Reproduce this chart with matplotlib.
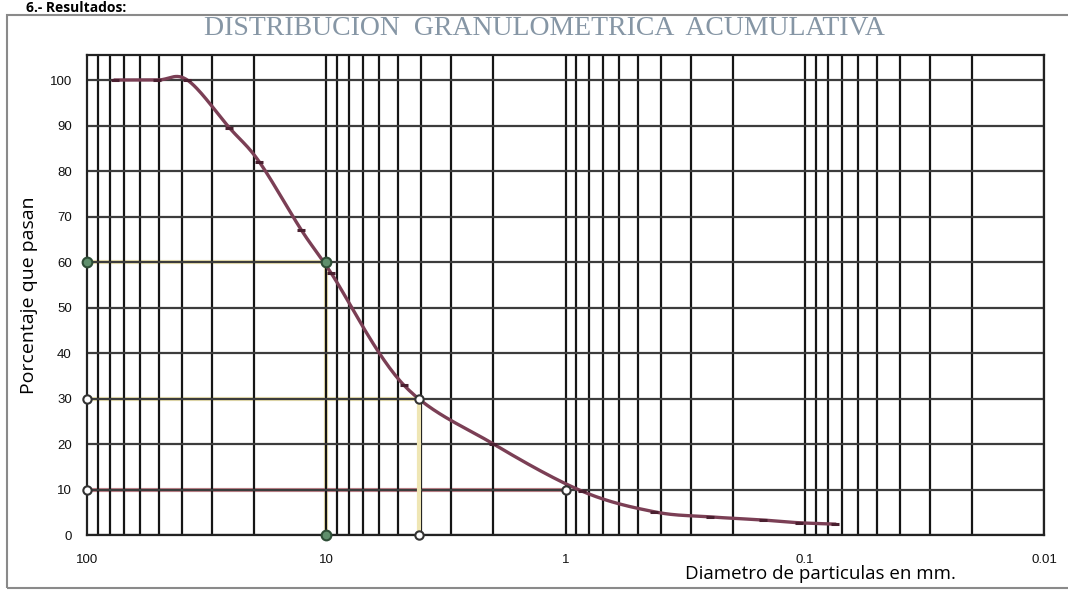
import numpy as np
import matplotlib
matplotlib.use('Agg')
import matplotlib.pyplot as plt
import matplotlib.patches as patches

# sieve openings (mm) and cumulative percent passing
sieve_mm = [76.2, 50.8, 38.1, 25.4, 19.05, 12.7, 9.525, 4.75, 2.0, 0.85, 0.425, 0.25, 0.15, 0.106, 0.075]
pct_pass = [100.0, 100.0, 100.0, 89.5, 82.0, 67.0, 57.5, 33.0, 20.0, 9.6, 5.1, 4.0, 3.3, 2.7, 2.4]

# characteristic diameters D60, D30, D10
guide_pct = [60, 30, 10]
guide_d = [10.0, 4.1, 1.0]

y_ticks = list(range(0, 101, 10))
x_ticks = [100, 10, 1, 0.1, 0.01]
x_tick_labels = ['100', '10', '1', '0.1', '0.01']


def smooth_curve(x, y, n=30):
    # Catmull-Rom through the points, done in log10(x) so it looks right on the log axis
    lx = np.log10(x)
    pts = np.column_stack([lx, y])
    pts = np.vstack([pts[0], pts, pts[-1]])
    out = []
    for i in range(1, len(pts) - 2):
        p0, p1, p2, p3 = pts[i - 1], pts[i], pts[i + 1], pts[i + 2]
        c1 = p1 + (p2 - p0) / 6.0
        c2 = p2 - (p3 - p1) / 6.0
        t = np.linspace(0, 1, n)[:, None]
        seg = ((1 - t) ** 3) * p1 + 3 * ((1 - t) ** 2) * t * c1 + 3 * (1 - t) * t ** 2 * c2 + t ** 3 * p2
        out.append(seg)
    out = np.vstack(out)
    return 10 ** out[:, 0], out[:, 1]


fig = plt.figure(figsize=(10.68, 5.90), dpi=100)
ax = fig.add_axes([0.0815, 0.0932, 0.896, 0.8136])
ax.set_xscale('log')
ax.set_xlim(100, 0.01)
ax.set_ylim(0, 105.5)

# grid: every 1..9 in each decade, and every 10 %
for dec in [10, 1, 0.1, 0.01]:
    for k in range(1, 10):
        xv = dec * k
        if 0.01 <= xv <= 100:
            ax.axvline(xv, color='#151515', lw=1.6, zorder=2)
for yv in y_ticks:
    ax.axhline(yv, color='#3c3c3c', lw=1.6, zorder=2)

# guide lines for D60, D30, D10
yellow = '#efe6b4'
ax.plot([100, guide_d[0]], [guide_pct[0]] * 2, color=yellow, lw=3, zorder=1)
ax.plot([guide_d[0]] * 2, [0, guide_pct[0]], color=yellow, lw=3, zorder=1)
ax.plot([100, guide_d[1]], [guide_pct[1]] * 2, color=yellow, lw=3, zorder=1)
ax.plot([guide_d[1]] * 2, [0, guide_pct[1]], color=yellow, lw=3, zorder=3)
ax.plot([100, guide_d[2]], [guide_pct[2]] * 2, color='#c4868d', lw=3, zorder=1)

# grading curve
cx, cy = smooth_curve(sieve_mm, pct_pass)
ax.plot(cx, cy, color='#7b3f55', lw=2.4, zorder=4)
ax.plot(sieve_mm, pct_pass, ls='none', marker='_', ms=6, mew=2.2, color='#4a2030', zorder=5)

# marker circles on the guides
green = '#5f8f6c'
ax.plot([100, guide_d[0], guide_d[0]], [guide_pct[0], guide_pct[0], 0], ls='none', marker='o', ms=7,
        mfc=green, mec='#2e4d36', mew=1.5, zorder=6, clip_on=False)
ax.plot([100, guide_d[1], guide_d[1]], [guide_pct[1], guide_pct[1], 0], ls='none', marker='o', ms=6,
        mfc='white', mec='#333333', mew=1.5, zorder=6, clip_on=False)
ax.plot([100, guide_d[2]], [guide_pct[2], guide_pct[2]], ls='none', marker='o', ms=6,
        mfc='white', mec='#333333', mew=1.5, zorder=6, clip_on=False)

for s in ax.spines.values():
    s.set_color('#222222')
    s.set_linewidth(1.6)

ax.set_yticks(y_ticks)
ax.set_yticklabels([str(v) for v in y_ticks], fontsize=9.5, family='Liberation Sans')
ax.set_xticks(x_ticks)
ax.set_xticklabels(x_tick_labels, fontsize=9.5, family='Liberation Sans')
ax.minorticks_off()
ax.tick_params(axis='both', length=0, colors='#111111')
ax.tick_params(axis='y', pad=11)
ax.tick_params(axis='x', pad=14)

ax.set_ylabel('Porcentaje que pasan', fontsize=14, family='Open Sans', labelpad=8)
fig.text(0.768, 0.027, 'Diametro de particulas en mm.', fontsize=13.5, family='Open Sans',
         ha='center', va='center')

fig.text(0.51, 0.952, 'DISTRIBUCION  GRANULOMETRICA  ACUMULATIVA', fontsize=20,
         family='Liberation Serif', color='#8696a5', ha='center', va='center')
fig.text(0.024, 0.999, '6.- Resultados:', fontsize=10, fontweight='bold', family='Open Sans',
         ha='left', va='top')

# outer frame
frame = patches.Rectangle((7 / 1068, 2 / 590), 1.2, 573 / 590, transform=fig.transFigure,
                          fill=False, edgecolor='#8a8a8a', lw=1.5)
fig.patches.append(frame)

fig.savefig('out.png', dpi=100)
